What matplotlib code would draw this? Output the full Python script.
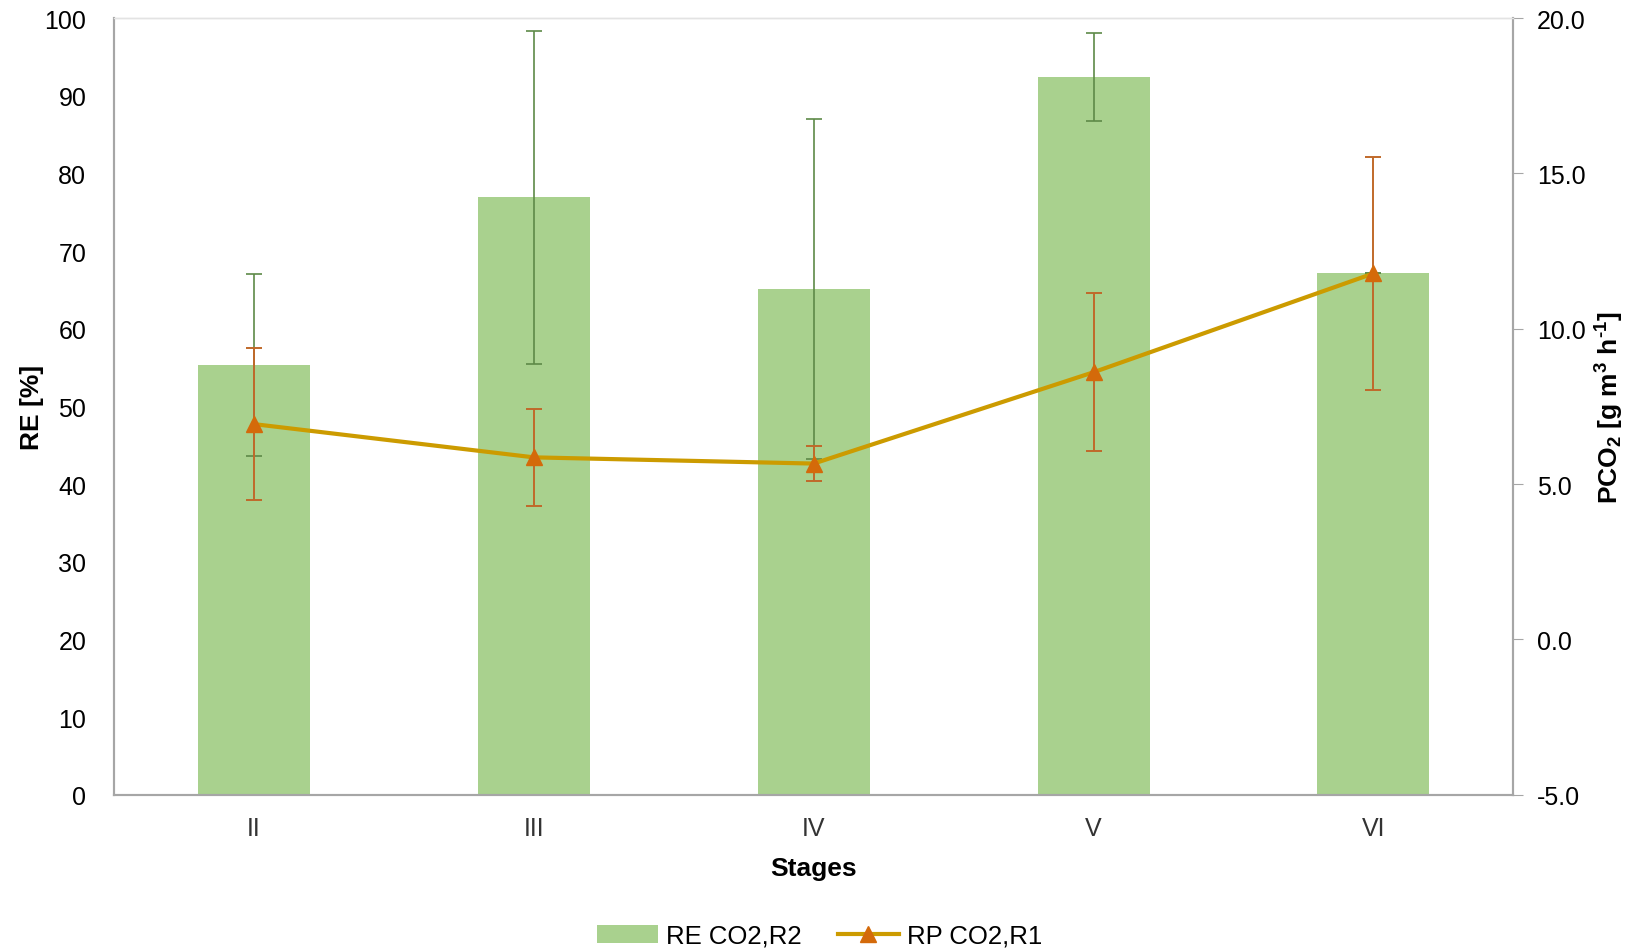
import matplotlib
matplotlib.use("Agg")
import matplotlib.pyplot as plt
import numpy as np

stages = ["II", "III", "IV", "V", "VI"]
re_co2_r2 = [55.3, 76.9, 65.1, 92.4, 67.2]
re_err = [11.7, 21.4, 21.9, 5.7, 0.0]
rp_co2_r1 = [6.93, 5.86, 5.66, 8.60, 11.78]
rp_err = [2.44, 1.57, 0.55, 2.54, 3.75]

plt.rcParams['font.family'] = ['Liberation Sans', 'DejaVu Sans']
plt.rcParams['mathtext.fontset'] = 'custom'
plt.rcParams['mathtext.bf'] = 'Liberation Sans:bold'
plt.rcParams['mathtext.rm'] = 'Liberation Sans:bold'
plt.rcParams['mathtext.default'] = 'bf'

fig = plt.figure(figsize=(16.29, 9.53), dpi=100)
ax = fig.add_axes([0.070, 0.165, 0.859, 0.815])
ax2 = ax.twinx()

x = np.arange(len(stages))

# bars on left axis
ax.bar(x, re_co2_r2, width=0.40, color='#A9D18E', zorder=2, label='RE CO2,R2')
ax.errorbar(x, re_co2_r2, yerr=re_err, fmt='none', ecolor='#5E8A48',
            elinewidth=1.2, capsize=6, capthick=1.2, zorder=3)

# line on right axis
ax2.errorbar(x, rp_co2_r1, yerr=rp_err, fmt='none', ecolor='#C0692A',
             elinewidth=1.4, capsize=6, capthick=1.4, zorder=3)
ax2.plot(x, rp_co2_r1, color='#CC9B00', linewidth=3, marker='^',
         markersize=12, markerfacecolor='#D46A0A', markeredgecolor='#D46A0A',
         zorder=4, label='RP CO2,R1')

ax.set_xlim(-0.5, len(stages) - 0.5)
ax.set_ylim(0, 100)
ax.set_yticks(range(0, 101, 10))
ax2.set_ylim(-5, 20)
ax2.set_yticks(np.arange(-5, 20.1, 5))
ax2.set_yticklabels([f"{v:.1f}" for v in np.arange(-5, 20.1, 5)])

ax.set_xticks(x)
ax.set_xticklabels(stages)

ax.tick_params(axis='y', length=0, labelsize=18, pad=20, colors='#000000')
ax.tick_params(axis='x', length=0, labelsize=18, pad=15, labelcolor='#333333')
ax2.tick_params(axis='y', length=7, labelsize=18, pad=10, color='#A6A6A6', direction='out')

for a in (ax, ax2):
    for s in a.spines.values():
        s.set_color('#A6A6A6')
        s.set_linewidth(1.5)
    a.spines['top'].set_color('#E3E3E3')
    a.spines['top'].set_linewidth(1)

ax.set_xlabel('Stages', fontsize=19, fontweight='bold', labelpad=12)
ax.set_ylabel('RE [%]', fontsize=19, fontweight='bold', labelpad=0)
ax2.set_ylabel('PCO$_2$ [g m$^3$ h$^{\\text{-}1}$]', fontsize=19, fontweight='bold', labelpad=6)

h1, l1 = ax.get_legend_handles_labels()
h2, l2 = ax2.get_legend_handles_labels()
fig.legend(h1 + h2, l1 + l2, loc='lower center', bbox_to_anchor=(0.503, -0.02),
           ncol=2, frameon=False, fontsize=18.5, handlelength=2.4,
           columnspacing=1.4, handletextpad=0.3)

fig.savefig('out.png', dpi=100)
